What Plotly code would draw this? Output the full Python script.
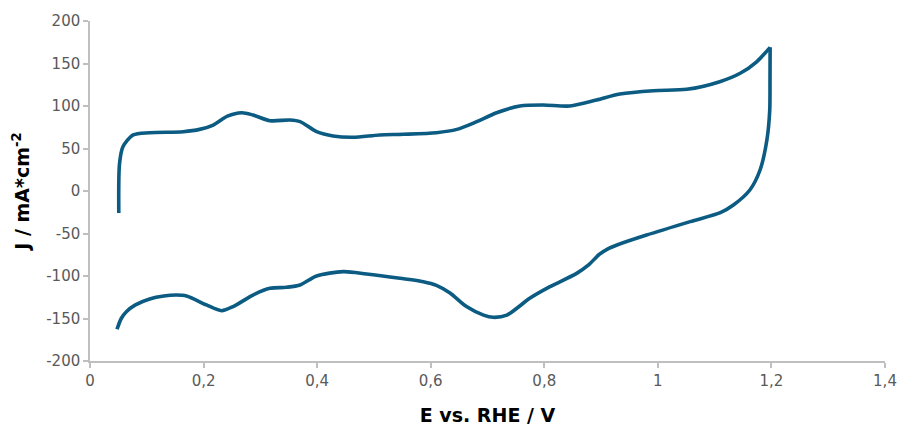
import plotly.graph_objects as go

# Cyclic voltammogram: anodic sweep (0.05 -> 1.2 V) followed by cathodic sweep (1.2 -> 0.05 V)
potential_anodic = [0.0507, 0.052, 0.058, 0.076, 0.105, 0.164, 0.193, 0.217, 0.242, 0.267,
                    0.287, 0.317, 0.352, 0.370, 0.399, 0.428, 0.463, 0.510, 0.552, 0.610,
                    0.646, 0.681, 0.716, 0.757, 0.798, 0.845, 0.892, 0.933, 0.992, 1.051,
                    1.109, 1.145, 1.174, 1.1977]
current_anodic = [-26, 32, 52, 66, 68.6, 69.8, 72.5, 77.6, 88, 92.1,
                  89.4, 82.7, 83.5, 81.6, 69.8, 64.7, 63.2, 65.9, 66.7, 68.6,
                  72.5, 81.6, 92.1, 100, 101.2, 100, 107, 114, 118, 119.6,
                  128.6, 138.5, 152, 169]

potential_cathodic = [1.1977, 1.1975, 1.197, 1.192, 1.180, 1.162, 1.133, 1.110, 1.057, 0.980,
                      0.928, 0.912, 0.896, 0.878, 0.857, 0.810, 0.775, 0.734, 0.710, 0.693,
                      0.663, 0.634, 0.610, 0.587, 0.546, 0.487, 0.446, 0.399, 0.370, 0.346,
                      0.317, 0.287, 0.252, 0.2315, 0.205, 0.170, 0.152, 0.130, 0.105, 0.080,
                      0.064, 0.055, 0.0476]
current_cathodic = [169, 130, 95, 60, 24.7, 1.2, -16.5, -25.5, -36, -51.8,
                    -63.5, -68, -75, -87, -96.9, -112.6, -126, -146, -148.6, -146,
                    -136, -120, -111, -106.7, -102.7, -97.6, -94.9, -100, -110.6, -113.3,
                    -114.5, -122.4, -136, -140.8, -134, -123.5, -122.4, -123.5, -127, -134,
                    -142, -150, -162.7]

x_tickvals = [0, 0.2, 0.4, 0.6, 0.8, 1.0, 1.2, 1.4]
x_ticktext = ["0", "0,2", "0,4", "0,6", "0,8", "1", "1,2", "1,4"]
y_tickvals = [-200, -150, -100, -50, 0, 50, 100, 150, 200]
y_ticktext = ["-200", "-150", "-100", "-50", "0", "50", "100", "150", "200"]

line_color = "#0b5b82"
axis_color = "#bfbfbf"
tick_font = dict(family="DejaVu Sans", size=15, color="#595959")
title_font = dict(family="DejaVu Sans", size=19, color="#000000")
curve_line = dict(color=line_color, width=3.6, shape="spline", smoothing=0.8)

fig = go.Figure()
# Each sweep is its own trace so the turning point at 1.2 V stays sharp
fig.add_trace(go.Scatter(x=potential_anodic, y=current_anodic, mode="lines",
                         line=curve_line, showlegend=False, hoverinfo="skip"))
fig.add_trace(go.Scatter(x=potential_cathodic, y=current_cathodic, mode="lines",
                         line=curve_line, showlegend=False, hoverinfo="skip"))

fig.update_layout(
    width=897,
    height=427,
    margin=dict(l=90, r=12, t=21, b=66, autoexpand=False),
    paper_bgcolor="white",
    plot_bgcolor="white",
    xaxis=dict(
        range=[0, 1.4],
        automargin=False,
        tickvals=x_tickvals,
        ticktext=x_ticktext,
        tickfont=tick_font,
        showgrid=False,
        zeroline=False,
        showline=True,
        linecolor=axis_color,
        linewidth=1.5,
        ticks="outside",
        ticklen=5,
        tickcolor=axis_color,
        tickwidth=1.5,
        title=dict(text="<b>E vs. RHE / V</b>", font=title_font, standoff=20),
    ),
    yaxis=dict(
        range=[-200, 200],
        automargin=False,
        tickvals=y_tickvals,
        ticktext=y_ticktext,
        tickfont=tick_font,
        showgrid=False,
        zeroline=False,
        showline=True,
        linecolor=axis_color,
        linewidth=1.5,
        ticks="outside",
        ticklen=5,
        tickcolor=axis_color,
        tickwidth=1.5,
        title=dict(text="<b>J / mA*cm<sup>-2</sup></b>", font=title_font, standoff=12),
    ),
)

fig.write_html("out.html")
